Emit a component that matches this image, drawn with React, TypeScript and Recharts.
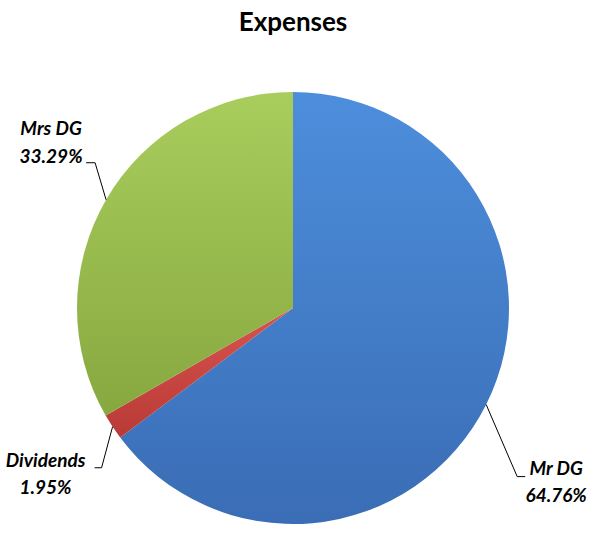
import React from "react";
import { PieChart, Pie, Cell } from "recharts";

const categories = ["Mr DG", "Dividends", "Mrs DG"];
const values = [64.76, 1.95, 33.29];
const percentLabels = ["64.76%", "1.95%", "33.29%"];

const gradientIds = ["gBlue", "gRed", "gGreen"];

// label layout relative to the slice's outer mid point
const labelLayout = [
  { ex: 31, ey: 72, hx: 8, tx: 31, b1: -2, b2: 25 },
  { ex: -11, ey: 41, hx: -7, tx: -49, b1: -1, b2: 26 },
  { ex: -11, ey: -37, hx: -9, tx: -35, b1: -28, b2: 0 },
];

const data = categories.map((name, i) => ({ name, value: values[i], pct: percentLabels[i] }));

const RADIAN = Math.PI / 180;

const renderLabel = (props: any) => {
  const { cx, cy, midAngle, outerRadius, index } = props;
  const ox = cx + outerRadius * Math.cos(-midAngle * RADIAN);
  const oy = cy + outerRadius * Math.sin(-midAngle * RADIAN);
  const l = labelLayout[index];
  const exx = ox + l.ex;
  const eyy = oy + l.ey;
  const endX = exx + l.hx;
  const tcx = endX + l.tx;
  const font = {
    fontFamily: "Lato, 'Open Sans', sans-serif",
    fontWeight: "bold" as const,
    fontStyle: "italic" as const,
    fontSize: 19,
    fill: "#000",
  };
  return (
    <g>
      <polyline
        points={`${ox},${oy} ${exx},${eyy} ${endX},${eyy}`}
        fill="none"
        stroke="#000"
        strokeWidth={1}
      />
      <text x={tcx} y={eyy + l.b1} textAnchor="middle" {...font}>
        {categories[index]}
      </text>
      <text x={tcx} y={eyy + l.b2} textAnchor="middle" {...font}>
        {data[index].pct}
      </text>
    </g>
  );
};

export default function App() {
  return (
    <div style={{ position: "absolute", left: 0, top: 0, width: 599, height: 533, background: "#fff" }}>
      <div
        style={{
          position: "absolute",
          left: 0,
          top: 5,
          width: 586,
          textAlign: "center",
          fontFamily: "Lato, 'Open Sans', sans-serif",
          fontWeight: "bold",
          fontSize: 26,
          color: "#000",
          lineHeight: "32px",
        }}
      >
        Expenses
      </div>
      <PieChart width={599} height={533} margin={{ top: 0, right: 0, bottom: 0, left: 0 }}>
        <defs>
          <linearGradient id="gBlue" x1="0" y1="0" x2="0" y2="1">
            <stop offset="0%" stopColor="#4d8edc" />
            <stop offset="100%" stopColor="#3a6db5" />
          </linearGradient>
          <linearGradient id="gRed" x1="0" y1="0" x2="0" y2="1">
            <stop offset="0%" stopColor="#d9534f" />
            <stop offset="100%" stopColor="#b83a36" />
          </linearGradient>
          <linearGradient id="gGreen" x1="0" y1="0" x2="0" y2="1">
            <stop offset="0%" stopColor="#a9cd5d" />
            <stop offset="100%" stopColor="#87a83f" />
          </linearGradient>
        </defs>
        <Pie
          data={data}
          dataKey="value"
          nameKey="name"
          cx={293}
          cy={308}
          outerRadius={216}
          startAngle={90}
          endAngle={-270}
          stroke="none"
          label={renderLabel}
          labelLine={false}
          isAnimationActive={false}
        >
          {data.map((d, i) => (
            <Cell key={d.name} fill={`url(#${gradientIds[i]})`} />
          ))}
        </Pie>
      </PieChart>
    </div>
  );
}
